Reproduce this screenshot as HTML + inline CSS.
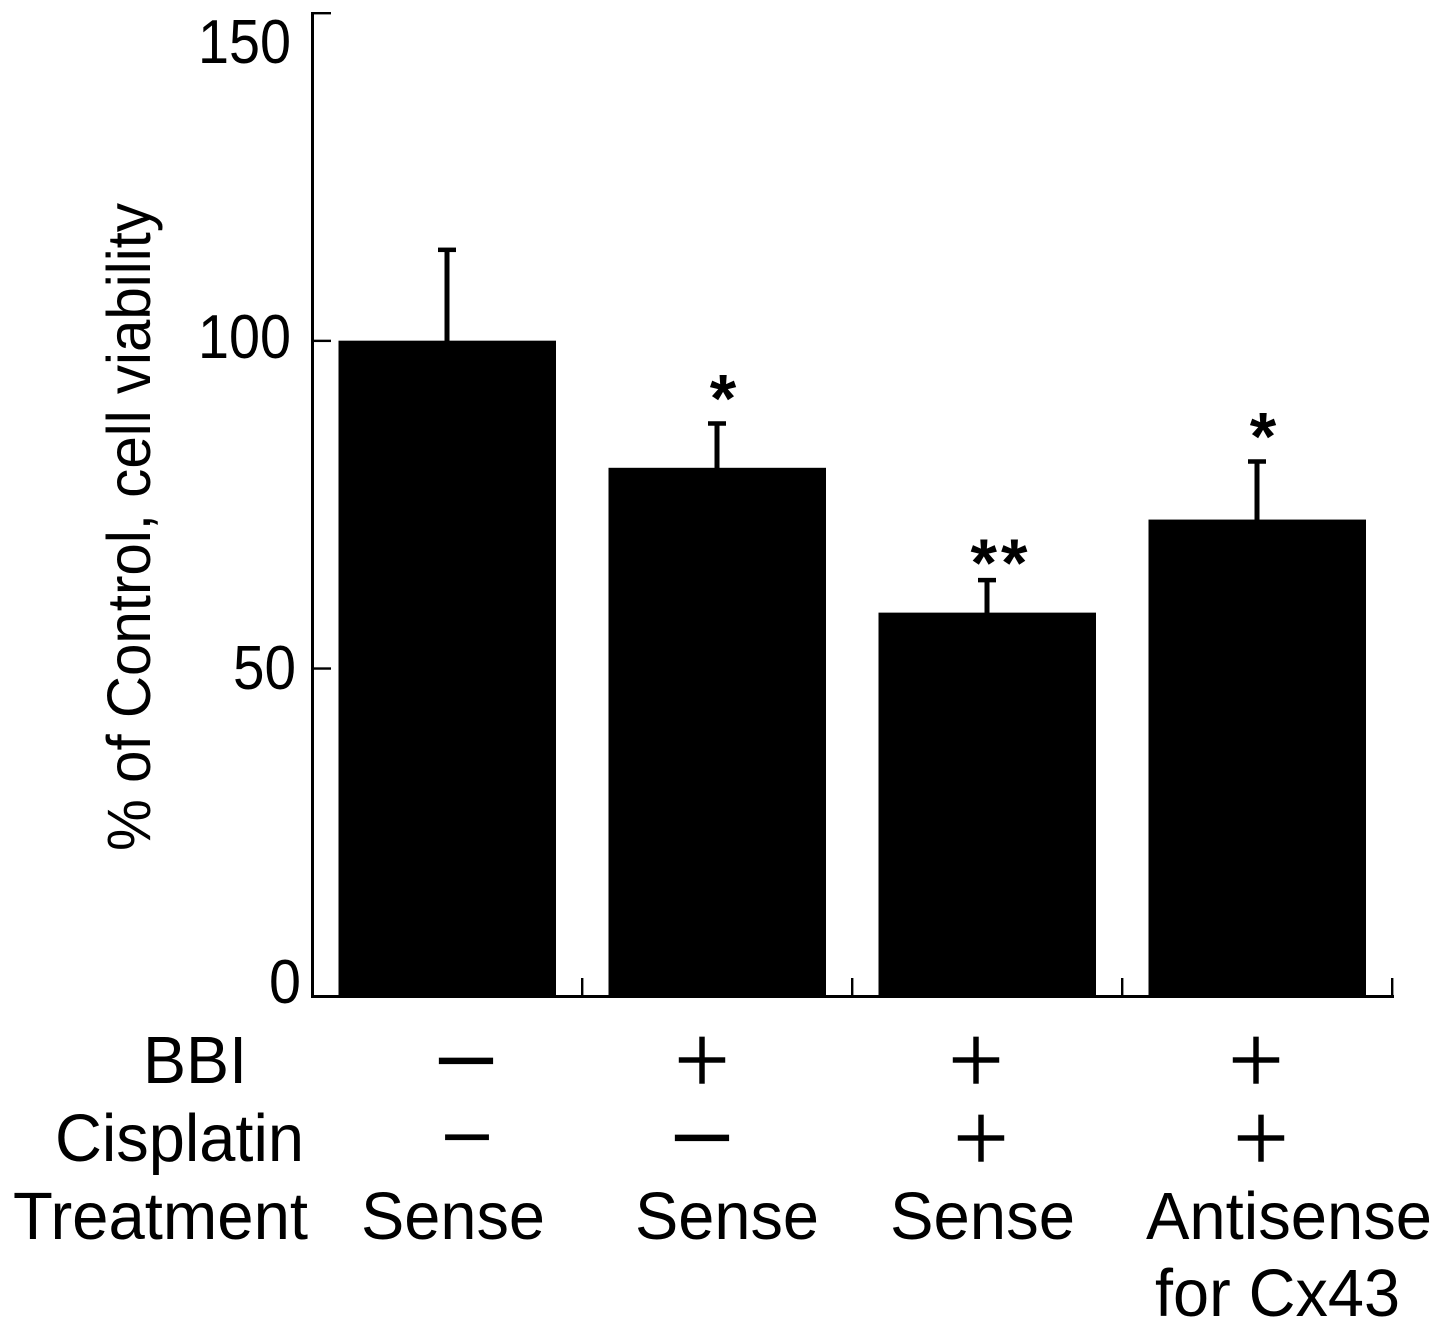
<!DOCTYPE html>
<html lang="en">
<head>
<meta charset="utf-8">
<title>Cell viability bar chart</title>
<style>
html,body{margin:0;padding:0;background:#fff;}
svg{display:block;}
text{font-family:"Liberation Sans",sans-serif;fill:#000;}
.t{font-size:67px;}
.d{font-size:62px;}
.s{stroke:#fff;stroke-width:1.6px;}
</style>
</head>
<body>
<svg id="chart" width="1441" height="1330" viewBox="0 0 1441 1330" xmlns="http://www.w3.org/2000/svg">
  <text font-size="61" transform="translate(150,851) rotate(-90)" textLength="648" lengthAdjust="spacingAndGlyphs">% of Control, cell viability</text>

  <text class="d" x="198" y="63" textLength="93" lengthAdjust="spacingAndGlyphs">150</text>
  <text class="d" x="198" y="358" textLength="93" lengthAdjust="spacingAndGlyphs">100</text>
  <text class="d" x="233" y="689" textLength="63" lengthAdjust="spacingAndGlyphs">50</text>
  <text class="d" x="269" y="1003" textLength="32" lengthAdjust="spacingAndGlyphs">0</text>

  <text class="t" x="143" y="1083" textLength="104" lengthAdjust="spacingAndGlyphs">BBI</text>
  <text class="t" x="55" y="1161" textLength="249" lengthAdjust="spacingAndGlyphs">Cisplatin</text>
  <text class="t" x="13" y="1239" textLength="295" lengthAdjust="spacingAndGlyphs">Treatment</text>

  <text class="t" x="361" y="1239" textLength="184" lengthAdjust="spacingAndGlyphs">Sense</text>
  <text class="t" x="635" y="1239" textLength="184" lengthAdjust="spacingAndGlyphs">Sense</text>
  <text class="t" x="890" y="1239" textLength="185" lengthAdjust="spacingAndGlyphs">Sense</text>
  <text class="t" x="1146" y="1239" textLength="286" lengthAdjust="spacingAndGlyphs">Antisense</text>
  <text class="t" x="1155" y="1316" textLength="245" lengthAdjust="spacingAndGlyphs">for Cx43</text>

  <text class="s" x="466" y="1099" font-size="115" text-anchor="middle">−</text>
  <text class="s" x="702" y="1093" font-size="99" text-anchor="middle">+</text>
  <text class="s" x="976" y="1093" font-size="99" text-anchor="middle">+</text>
  <text class="s" x="1256" y="1093" font-size="99" text-anchor="middle">+</text>
  <text x="467" y="1168" font-size="92" text-anchor="middle" stroke="#fff" stroke-width="0.8">−</text>
  <text class="s" x="702" y="1176" font-size="115" text-anchor="middle">−</text>
  <text class="s" x="981" y="1171" font-size="99" text-anchor="middle">+</text>
  <text class="s" x="1261" y="1171" font-size="99" text-anchor="middle">+</text>

  <g id="axes"></g>
  <g id="bars"></g>
</svg>
<script>
const categories = ["Control sense", "BBI sense", "BBI cisplatin sense", "BBI cisplatin antisense"];
const viability = [100, 80.6, 58.5, 72.7];
const errorTop = [113.9, 87.4, 63.5, 81.6];
const significance = ["", "*", "**", "*"];
const yTicks = [0, 50, 100, 150];

const NS = "http://www.w3.org/2000/svg";
const baseY = 996, topY = 13, yMax = 150;
const axisX = 312, step = 270, barW = 217.5;
function yScale(v) { return baseY - (v / yMax) * (baseY - topY); }
function xCenter(i) { return axisX + step * (i + 0.5); }
function xEdge(i) { return axisX + step * i; }
function make(tag, parent, attrs) {
  const el = document.createElementNS(NS, tag);
  for (const k in attrs) el.setAttribute(k, attrs[k]);
  parent.appendChild(el);
  return el;
}
const axes = document.getElementById("axes");
const bars = document.getElementById("bars");

const yLine = make("rect", axes, {x: axisX - 1, y: topY - 1, width: 3, height: baseY - topY + 2, fill: "#000"});


const xLine = make("rect", axes, {x: axisX - 1, y: baseY - 1, width: step * categories.length + 3, height: 3, fill: "#000"});



yTicks.forEach(function (t) {
  const tick = make("rect", axes, {x: axisX - 1, y: yScale(t) - 1, width: 20, height: 2.4, fill: "#000"});
  
  
});
categories.forEach(function (c, i) {
  const tick = make("rect", axes, {x: xEdge(i + 1) - 1, y: baseY - 18, width: 2.4, height: 18, fill: "#000"});
  
  
});
categories.forEach(function (c, i) {
  const cx = xCenter(i);
  const bar = make("rect", bars, {x: cx - barW / 2 + 0.25, y: yScale(viability[i]), width: barW, height: baseY - yScale(viability[i]), fill: "#000"});
  
  
  const stem = make("rect", bars, {x: cx - 2.5, y: yScale(errorTop[i]), width: 5, height: yScale(viability[i]) - yScale(errorTop[i]) + 1, fill: "#000"});
  
  
  const cap = make("rect", bars, {x: cx - 9, y: yScale(errorTop[i]) - 2, width: 18, height: 4.5, fill: "#000"});
  
  
  if (significance[i]) {
    const isDouble = significance[i].length > 1;
    const star = make("text", bars, {x: cx + (isDouble ? 14 : 6), y: yScale(errorTop[i]) + (isDouble ? 6 : -1.5), "font-size": 68, "font-weight": "bold", "text-anchor": "middle", "letter-spacing": isDouble ? 4 : 0});
    star.textContent = significance[i];
    
    
  }
});
</script>
</body>
</html>
